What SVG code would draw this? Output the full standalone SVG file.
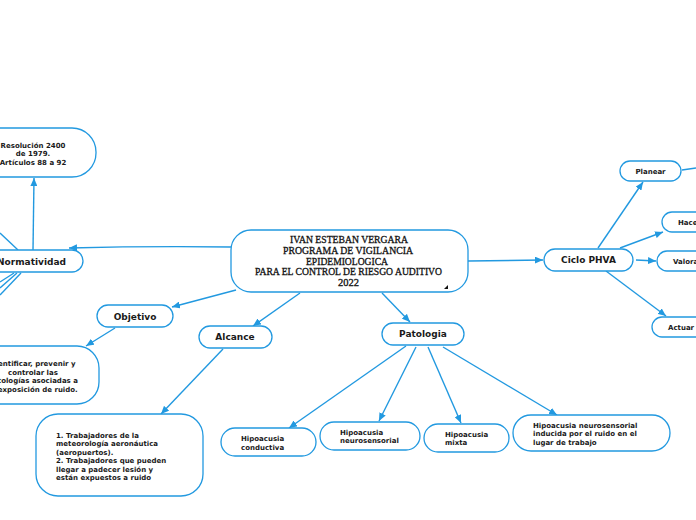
<svg xmlns="http://www.w3.org/2000/svg" width="696" height="520" viewBox="0 0 696 520">
<defs>
<marker id="ah" viewBox="0 0 8 7" refX="8" refY="3.5" markerWidth="8" markerHeight="7" markerUnits="userSpaceOnUse" orient="auto">
<path d="M0,0 L8,3.5 L0,7 z" fill="#2299e0"/>
</marker>
<style>
.n{fill:#fff;stroke:#2299e0;stroke-width:1.3}
.c{fill:none;stroke:#2299e0;stroke-width:1.4}
.a{marker-end:url(#ah)}
.t{font-family:"DejaVu Sans",Verdana,sans-serif;font-weight:bold;fill:#1a1a1a}
.l{font-size:9px;text-anchor:middle}
.s{font-size:7px}
.m{text-anchor:middle}
.ct{font-family:"Liberation Serif","Times New Roman",serif;font-size:10px;fill:#111;stroke:#111;stroke-width:0.3;text-anchor:middle}
</style>
</defs>
<rect width="696" height="520" fill="#fff"/>
<g id="connectors">
<path class="c a" d="M231,247 Q150,246 69,248"/>
<path class="c a" d="M33,250 L34,178"/>
<path class="c" d="M18,250 L0,233"/>
<path class="c" d="M14,273 L0,282"/>
<path class="c" d="M17,273 L0,288"/>
<path class="c" d="M21,273 L0,295"/>
<path class="c a" d="M236,290 L172,307"/>
<path class="c a" d="M115,328 L86,346"/>
<path class="c a" d="M300,293 L253,326"/>
<path class="c a" d="M223,349 L161,414"/>
<path class="c a" d="M382,293 L410,322"/>
<path class="c a" d="M406,346 L289,428"/>
<path class="c a" d="M416,347 L379,421"/>
<path class="c a" d="M428,347 L461,423"/>
<path class="c a" d="M443,347 L557,415"/>
<path class="c a" d="M468,261 L543,260"/>
<path class="c a" d="M598,248 L643,182"/>
<path class="c a" d="M620,248 L663,232"/>
<path class="c a" d="M636,260 L656,261"/>
<path class="c a" d="M606,271 L666,316"/>
<path class="c" d="M682,170 L696,168"/>
</g>
<g id="central">
<rect class="n" x="231" y="230" width="237" height="62" rx="20"/>
<text class="ct" x="349" y="243" textLength="118" lengthAdjust="spacingAndGlyphs">IVAN ESTEBAN VERGARA</text>
<text class="ct" x="348" y="254" textLength="130" lengthAdjust="spacingAndGlyphs">PROGRAMA DE VIGILANCIA</text>
<text class="ct" x="347" y="264.5" textLength="82" lengthAdjust="spacingAndGlyphs">EPIDEMIOLOGICA</text>
<text class="ct" x="348.5" y="275" textLength="187" lengthAdjust="spacingAndGlyphs">PARA EL CONTROL DE RIESGO AUDITIVO</text>
<text class="ct" x="348.5" y="285.5" textLength="21" lengthAdjust="spacingAndGlyphs">2022</text>
<polygon points="444,289 448,289 448,285" fill="#111"/>
</g>
<g id="normatividad">
<rect class="n" x="-20" y="250" width="103" height="22" rx="11"/>
<text class="t l" x="31.5" y="265">Normatividad</text>
</g>
<g id="resolucion">
<rect class="n" x="-40" y="128" width="136" height="49" rx="24"/>
<text class="t s m" x="33" y="148">Resolución 2400</text>
<text class="t s m" x="33" y="156">de 1979.</text>
<text class="t s m" x="33" y="165">Artículos 88 a 92</text>
</g>
<g id="objetivo">
<rect class="n" x="97" y="305" width="76" height="22" rx="11"/>
<text class="t l" x="135" y="320">Objetivo</text>
</g>
<g id="objetivo-desc">
<rect class="n" x="-40" y="346" width="139" height="58" rx="22"/>
<text class="t s m" x="33" y="366">Identificar, prevenir y</text>
<text class="t s m" x="33" y="375">controlar las</text>
<text class="t s m" x="33" y="383">patologías asociadas a</text>
<text class="t s m" x="33" y="392">la exposición de ruido.</text>
</g>
<g id="alcance">
<rect class="n" x="199" y="326" width="73" height="22" rx="11"/>
<text class="t l" x="235" y="340">Alcance</text>
</g>
<g id="alcance-desc">
<rect class="n" x="36" y="414" width="167" height="82" rx="22"/>
<text class="t s" x="56" y="438">1. Trabajadores de la</text>
<text class="t s" x="56" y="446">meteorología aeronáutica</text>
<text class="t s" x="56" y="455">(aeropuertos).</text>
<text class="t s" x="56" y="463">2. Trabajadores que pueden</text>
<text class="t s" x="56" y="472">llegar a padecer lesión y</text>
<text class="t s" x="56" y="480">están expuestos a ruido</text>
</g>
<g id="patologia">
<rect class="n" x="382" y="323" width="82" height="22" rx="11"/>
<text class="t l" x="423" y="337">Patologia</text>
</g>
<g id="hip-conductiva">
<rect class="n" x="221" y="428" width="95" height="28" rx="14"/>
<text class="t s" x="241" y="441">Hipoacusia</text>
<text class="t s" x="241" y="450">conductiva</text>
</g>
<g id="hip-neuro">
<rect class="n" x="320" y="422" width="100" height="28" rx="14"/>
<text class="t s" x="340" y="435">Hipoacusia</text>
<text class="t s" x="340" y="443">neurosensorial</text>
</g>
<g id="hip-mixta">
<rect class="n" x="424" y="424" width="85" height="28" rx="14"/>
<text class="t s" x="445" y="437">Hipoacusia</text>
<text class="t s" x="445" y="445">mixta</text>
</g>
<g id="hip-inducida">
<rect class="n" x="513" y="415" width="157" height="36" rx="18"/>
<text class="t s" x="533" y="428">Hipoacusia neurosensorial</text>
<text class="t s" x="533" y="436">inducida por el ruido en el</text>
<text class="t s" x="533" y="445">lugar de trabajo</text>
</g>
<g id="ciclo">
<rect class="n" x="544" y="249" width="89" height="22" rx="11"/>
<text class="t l" x="588.5" y="263">Ciclo PHVA</text>
</g>
<g id="planear">
<rect class="n" x="620" y="161" width="61" height="20" rx="10"/>
<text class="t s m" x="650.5" y="174">Planear</text>
</g>
<g id="hacer">
<rect class="n" x="662" y="212" width="60" height="20" rx="10"/>
<text class="t s" x="678" y="224.5">Hacer</text>
</g>
<g id="valorar">
<rect class="n" x="657" y="251" width="65" height="20" rx="10"/>
<text class="t s" x="673" y="263.5">Valorar</text>
</g>
<g id="actuar">
<rect class="n" x="652" y="317" width="70" height="20" rx="10"/>
<text class="t s" x="668" y="329.5">Actuar</text>
</g>
</svg>
